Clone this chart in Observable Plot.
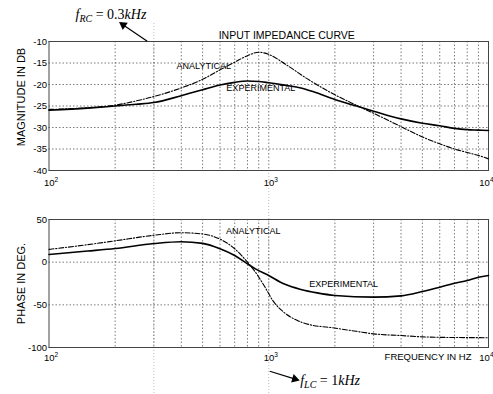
<!DOCTYPE html>
<html><head><meta charset="utf-8">
<script src="https://cdn.jsdelivr.net/npm/d3@7"></script>
<script src="https://cdn.jsdelivr.net/npm/@observablehq/plot@0.6"></script>
<style>
html,body{margin:0;padding:0;background:#fff;overflow:hidden;}
#fig{position:relative;width:493px;height:394px;overflow:hidden;background:#fff;}
#fig svg{position:absolute;left:0;overflow:visible;background:transparent;}
</style></head><body><div id="fig"></div>
<script>
// ---- data ----
const magAnalyticalFreq = [100,150,200,250,300,400,500,600,700,800,900,1000,1200,1500,2000,2500,3000,4000,5000,6000,7000,8000,9000,10000];
const magAnalytical     = [-25.8,-25.4,-24.8,-23.8,-22.8,-20.8,-18.8,-16.6,-14.8,-13.3,-12.5,-13.0,-15.4,-18.7,-22.4,-24.8,-26.7,-29.8,-32.2,-33.8,-35,-35.8,-36.5,-37.3];
const magExperimentalFreq = [100,150,200,250,300,400,500,600,700,800,900,1000,1200,1400,1600,2000,2500,3000,4000,5000,6000,7000,8000,9000,10000];
const magExperimental     = [-26,-25.5,-25,-24.6,-24.2,-22.6,-21.2,-20.1,-19.5,-19.2,-19.3,-19.6,-20.2,-20.8,-21.7,-23.5,-25,-26.2,-28,-29,-29.6,-30.2,-30.5,-30.6,-30.7];
const phaseAnalyticalFreq = [100,150,200,300,400,500,600,700,800,870,950,1050,1170,1350,1550,1900,2500,3000,4000,5000,7000,10000];
const phaseAnalytical     = [15,20.5,25,31.5,34.5,33,27,15.7,0,-11.7,-27,-46,-58.6,-68.4,-73.5,-76.5,-81,-84,-86,-87.5,-88.3,-88.5];
const phaseExperimentalFreq = [100,150,200,300,400,500,600,700,800,870,1000,1170,1400,1660,2000,3000,4000,5000,6000,7000,8000,9000,10000];
const phaseExperimental     = [9,13,16,21.8,24,22,15.7,7.8,-2,-7.8,-15.6,-25.4,-32,-36,-39,-41,-39.5,-34.4,-29.3,-24.6,-21.5,-17.6,-15.6];

const xTicks = [100,1000,10000];
const xTickExponents = ["2","3","4"];
const xGrid = [200,300,400,500,600,700,800,900,1000,2000,3000,4000,5000,6000,7000,8000,9000];
const magTicks = [-10,-15,-20,-25,-30,-35,-40];
const phaseTicks = [50,0,-50,-100];

const title = "INPUT IMPEDANCE CURVE";
const magLabel = "MAGNITUDE IN DB";
const phaseLabel = "PHASE IN DEG.";
const freqLabel = "FREQUENCY IN HZ";
const magCurveLabels = [{f:506, v:-15.8, label:"ANALYTICAL"}, {f:920, v:-20.8, label:"EXPERIMENTAL"}];
const phaseCurveLabels = [{f:850, v:36.2, label:"ANALYTICAL"}, {f:2190, v:-25.6, label:"EXPERIMENTAL"}];

// annotations: RC corner (0.3 kHz) and LC resonance (1 kHz)
const rcNote = [{f:132, v:-3.7, text:"fRC = 0.3kHz"}];
const rcArrow = [{f1:280, v1:-9.93, f2:212, v2:-5.74}];
const lcNote = [{f:1390, v:-138.7, text:"fLC = 1kHz"}];
const lcArrow = [{f1:1011, v1:-127.8, f2:1355, v2:-138}];
const guides = [{f:300, from:-5.8, to:-200}, {f:1000, from:-40, to:-200}];

const toRows = (fs, vs) => fs.map((f, i) => ({f, v: vs[i]}));
const sans = "'Liberation Sans', Arial, Helvetica, sans-serif";
const serif = "'Liberation Serif', 'Times New Roman', serif";
const fmtX = d => "10^" + xTickExponents[xTicks.indexOf(d)];

const gridStyle = {stroke:"#444", strokeWidth:0.7, strokeDasharray:"1.5,2"};
const analyticalStyle = {stroke:"#000", strokeWidth:1.1, strokeDasharray:"5,1.8,1.2,1.8", curve:"monotone-x"};
const experimentalStyle = {stroke:"#000", strokeWidth:1.6, curve:"monotone-x"};

const common = {
  width: 493, marginLeft: 48.5, marginRight: 5,
  style: {fontFamily: sans, fontSize: "9px", color: "#000", background: "transparent", overflow: "visible"},
  x: {type: "log", domain: [100, 10000]}
};

const xAxes = (pad) => [
  Plot.axisX(xTicks.slice(0, 2), {tickSize:0, tickPadding:pad, tickFormat: fmtX, label:null, fontSize:9.5, dx:2}),
  Plot.axisX(xTicks.slice(2), {tickSize:0, tickPadding:pad, tickFormat: fmtX, label:null, fontSize:9.5, textAnchor:"end", dx:5})
];

const magPlot = Plot.plot({
  ...common, height: 190, marginTop: 41, marginBottom: 20,
  y: {domain: [-40, -10]},
  marks: [
    Plot.ruleX(guides, {x:"f", y1:"from", y2:"to", stroke:"#aaa", strokeWidth:0.8, strokeDasharray:"1,2"}),
    Plot.ruleX(xGrid, gridStyle),
    Plot.ruleY(magTicks, gridStyle),
    Plot.frame({stroke:"#444", strokeWidth:1}),
    Plot.line(toRows(magAnalyticalFreq, magAnalytical), {x:"f", y:"v", ...analyticalStyle}),
    Plot.line(toRows(magExperimentalFreq, magExperimental), {x:"f", y:"v", ...experimentalStyle}),
    Plot.text(magCurveLabels, {x:"f", y:"v", text:"label", fontSize:9, fill:"#000"}),
    Plot.axisY(magTicks, {tickSize:0, tickPadding:2, tickFormat: d => String(d), label:null, fontSize:9.5}),
    ...xAxes(9),
    Plot.text([magLabel], {frameAnchor:"left", textAnchor:"middle", rotate:-90, dx:-28, dy:-9, fontSize:11}),
    Plot.text([title], {frameAnchor:"top", dx:18, dy:-10, fontSize:10.5}),
    Plot.link(rcArrow, {x1:"f1", y1:"v1", x2:"f2", y2:"v2", stroke:"#000", strokeWidth:1.2}),
    Plot.dot(rcArrow, {x:"f2", y:"v2", symbol:"triangle2", r:4.2, fill:"#000", rotate:-55, dx:2.5, dy:1.8}),
    Plot.text(rcNote, {x:"f", y:"v", text:"text", textAnchor:"start", fontFamily:serif, fontSize:14})
  ]
});

const phasePlot = Plot.plot({
  ...common, height: 204, marginTop: 29, marginBottom: 47,
  y: {domain: [-100, 50]},
  marks: [
    Plot.ruleX(xGrid, gridStyle),
    Plot.ruleY(phaseTicks, gridStyle),
    Plot.frame({stroke:"#444", strokeWidth:1}),
    Plot.line(toRows(phaseAnalyticalFreq, phaseAnalytical), {x:"f", y:"v", ...analyticalStyle}),
    Plot.line(toRows(phaseExperimentalFreq, phaseExperimental), {x:"f", y:"v", ...experimentalStyle}),
    Plot.text(phaseCurveLabels, {x:"f", y:"v", text:"label", fontSize:9, fill:"#000"}),
    Plot.axisY(phaseTicks, {tickSize:0, tickPadding:2, tickFormat: d => String(d), label:null, fontSize:9.5}),
    ...xAxes(7),
    Plot.text([phaseLabel], {frameAnchor:"left", textAnchor:"middle", rotate:-90, dx:-28, fontSize:11}),
    Plot.text([freqLabel], {frameAnchor:"bottom-right", textAnchor:"end", dx:-17, dy:12, fontSize:9.5}),
    Plot.link(lcArrow, {x1:"f1", y1:"v1", x2:"f2", y2:"v2", stroke:"#000", strokeWidth:1.2}),
    Plot.dot(lcArrow, {x:"f2", y:"v2", symbol:"triangle2", r:4.2, fill:"#000", rotate:106, dx:-2.9, dy:-0.9}),
    Plot.text(lcNote, {x:"f", y:"v", text:"text", textAnchor:"start", fontFamily:serif, fontSize:14})
  ]
});

function richify(svg, plain, parts) {
  d3.select(svg).selectAll("text").filter(function(){ return this.textContent === plain; }).each(function(){
    const t = d3.select(this);
    t.text("");
    let shift = 0;
    for (const p of parts) {
      const ts = t.append("tspan").text(p.t);
      if (p.i !== undefined) ts.attr("font-style", p.i ? "italic" : "normal");
      let target = 0;
      if (p.sub) { ts.attr("font-size", "10px"); target = 3; }
      if (p.sup) { ts.attr("font-size", "6.5px"); target = -4; }
      if (target !== shift) { ts.attr("dy", target - shift); shift = target; }
    }
  });
}
richify(magPlot, "fRC = 0.3kHz", [{t:"f", i:1}, {t:"RC", i:1, sub:1}, {t:" = 0.3", i:0}, {t:"kHz", i:1}]);
richify(phasePlot, "fLC = 1kHz", [{t:"f", i:1}, {t:"LC", i:1, sub:1}, {t:" = 1", i:0}, {t:"kHz", i:1}]);
for (const svg of [magPlot, phasePlot]) {
  xTickExponents.forEach(e => richify(svg, "10^" + e, [{t:"10"}, {t:e, sup:1}]));
}

magPlot.style.top = "0px";
phasePlot.style.top = "190px";
const fig = document.getElementById("fig");
fig.appendChild(magPlot);
fig.appendChild(phasePlot);
</script></body></html>
